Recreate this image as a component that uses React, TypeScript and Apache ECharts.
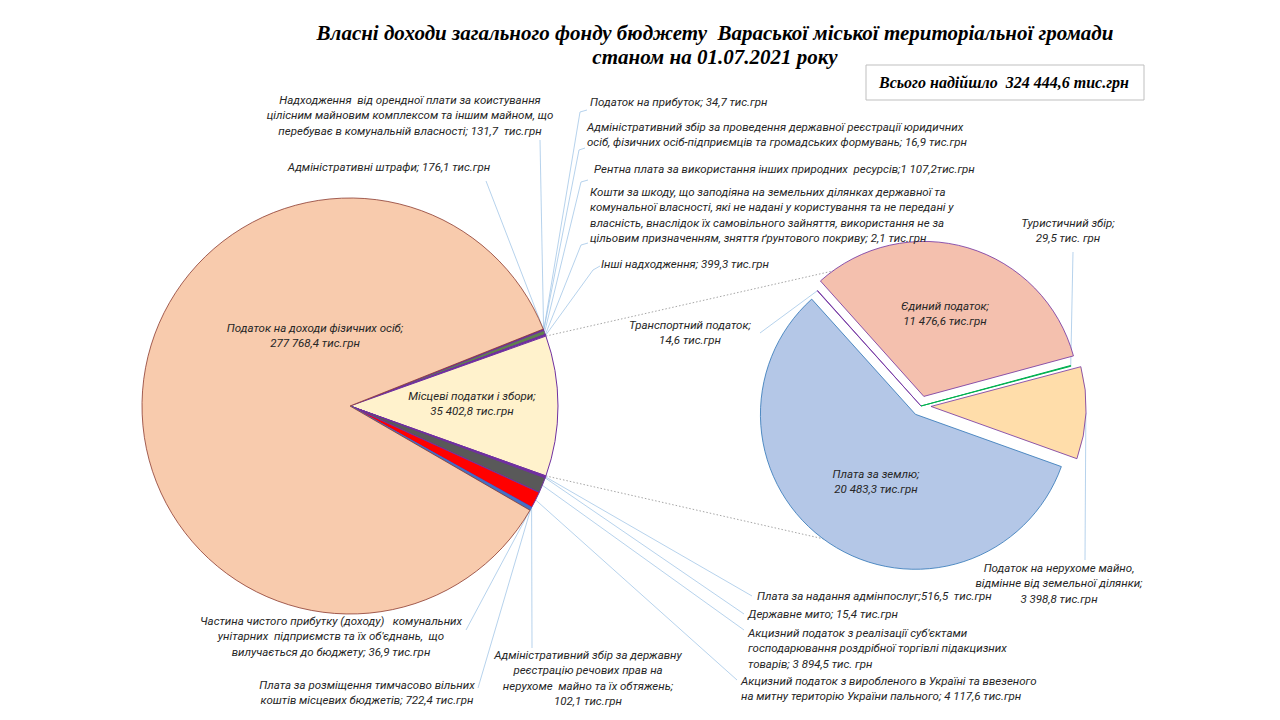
import React, { useEffect, useRef } from "react";
import * as echarts from "echarts";

// ---------- DATA ----------
// Main pie, clockwise from the upper-right small slices
const mainNames = [
  "Адміністративні штрафи",
  "Надходження від орендної плати",
  "Податок на прибуток",
  "Адміністративний збір за реєстрацію юридичних осіб",
  "Рентна плата за використання інших природних ресурсів",
  "Кошти за шкоду на земельних ділянках",
  "Інші надходження",
  "Місцеві податки і збори",
  "Плата за надання адмінпослуг",
  "Державне мито",
  "Акцизний податок з роздрібної торгівлі",
  "Акцизний податок з пального",
  "Адміністративний збір за реєстрацію речових прав",
  "Плата за розміщення тимчасово вільних коштів",
  "Частина чистого прибутку комунальних підприємств",
  "Податок на доходи фізичних осіб",
];
const mainValues = [
  176.1, 131.7, 34.7, 16.9, 1107.2, 2.1, 399.3, 35402.8, 516.5, 15.4, 3894.5,
  4117.6, 102.1, 722.4, 36.9, 277768.4,
];
const mainLabels = [
  "Адміністративні штрафи; 176,1 тис.грн",
  "Надходження  від орендної плати за коистування\nцілісним майновим комплексом та іншим майном, що\nперебуває в комунальній власності; 131,7  тис.грн",
  "Податок на прибуток; 34,7 тис.грн",
  "Адміністративний збір за проведення державної реєстрації юридичних\nосіб, фізичних осіб-підприємців та громадських формувань; 16,9 тис.грн",
  "Рентна плата за використання інших природних  ресурсів;1 107,2тис.грн",
  "Кошти за шкоду, що заподіяна на земельних ділянках державної та\nкомунальної власності, які не надані у користування та не передані у\nвласність, внаслідок їх самовільного зайняття, використання не за\nцільовим призначенням, зняття ґрунтового покриву; 2,1 тис.грн",
  "Інші надходження; 399,3 тис.грн",
  "Місцеві податки і збори;\n35 402,8 тис.грн",
  "Плата за надання адмінпослуг;516,5  тис.грн",
  "Державне мито; 15,4 тис.грн",
  "Акцизний податок з реалізації суб'єктами\nгосподарювання роздрібної торгівлі підакцизних\nтоварів; 3 894,5 тис. грн",
  "Акцизний податок з виробленого в Україні та ввезеного\nна митну територію України пального; 4 117,6 тис.грн",
  "Адміністративний збір за державну\nреєстрацію речових прав на\nнерухоме  майно та їх обтяжень;\n102,1 тис.грн",
  "Плата за розміщення тимчасово вільних\nкоштів місцевих бюджетів; 722,4 тис.грн",
  "Частина чистого прибутку (доходу)   комунальних\nунітарних  підприємств та їх об'єднань,  що\nвилучається до бюджету; 36,9 тис.грн",
  "Податок на доходи фізичних осіб;\n277 768,4 тис.грн",
];

// Second pie: breakdown of "Місцеві податки і збори", clockwise
const localNames = [
  "Транспортний податок",
  "Єдиний податок",
  "Туристичний збір",
  "Податок на нерухоме майно, відмінне від земельної ділянки",
  "Плата за землю",
];
const localValues = [14.6, 11476.6, 29.5, 3398.8, 20483.3];
const localLabels = [
  "Транспортний податок;\n14,6 тис.грн",
  "Єдиний податок;\n11 476,6 тис.грн",
  "Туристичний збір;\n29,5 тис. грн",
  "Податок на нерухоме майно,\nвідмінне від земельної ділянки;\n3 398,8 тис.грн",
  "Плата за землю;\n20 483,3 тис.грн",
];
const localExploded = [false, true, false, true, true];

// ---------- STYLE ----------
const mainColors = [
  "#7030A0", "#7030A0", "#7030A0", "#7030A0", "#5F7F4F", "#7030A0", "#7030A0",
  "#FFF2CC", "#7030A0", "#7030A0", "#595959", "#FF0000", "#7030A0", "#4472C4",
  "#4472C4", "#F8CBAD",
];
const mainBorders = [
  "#7030A0", "#7030A0", "#7030A0", "#7030A0", "#7030A0", "#7030A0", "#7030A0",
  "#7030A0", "#7030A0", "#7030A0", "#7030A0", "#7030A0", "#7030A0", "#4472C4",
  "#4472C4", "#8B3A2E",
];
const localColors = ["#7030A0", "#F4C0AE", "#00B050", "#FFDDAA", "#B4C7E7"];
const localBorders = ["#7030A0", "#7030A0", "#00B050", "#7030A0", "#2E75B6"];

const MAIN_C = [350, 406];
const MAIN_R = 208;
const LOC_C = [921, 406];
const LOC_R = 155;
const LOC_START = 132;
const OFFSET = 10;

type Spot = { x: number; y: number; align: string; line?: number[][] };
const mainSpots: Spot[] = [
  { x: 389, y: 159, align: "center", line: [[486, 181]] },
  { x: 410, y: 92, align: "center", line: [[540, 140]] },
  { x: 590, y: 94, align: "left", line: [[580, 112], [587, 110]] },
  { x: 587, y: 119, align: "left", line: [[579, 150], [585, 148]] },
  { x: 594, y: 161, align: "left", line: [[581, 182], [588, 180]] },
  { x: 590, y: 184, align: "left", line: [[581, 245], [588, 243]] },
  { x: 601, y: 256, align: "left", line: [[593, 270], [600, 266]] },
  { x: 472, y: 388, align: "center" },
  { x: 757, y: 588, align: "left", line: [[752, 596]] },
  { x: 748, y: 606, align: "left", line: [[744, 614]] },
  { x: 748, y: 625, align: "left", line: [[744, 630]] },
  { x: 741, y: 673, align: "left", line: [[737, 680]] },
  { x: 588, y: 647, align: "center", line: [[532, 648]] },
  { x: 367, y: 677, align: "center", line: [[478, 688]] },
  { x: 331, y: 613, align: "center", line: [[466, 630]] },
  { x: 315, y: 320, align: "center" },
];
const localSpots: Spot[] = [
  { x: 690, y: 317, align: "center", line: [[760, 333]] },
  { x: 945, y: 298, align: "center" },
  { x: 1068, y: 215, align: "center", line: [[1073, 252]] },
  { x: 1059, y: 560, align: "center", line: [[1085, 560]] },
  { x: 876, y: 466, align: "center" },
];

const labelText = {
  fontFamily: "Roboto",
  fontStyle: "italic" as const,
  fontSize: 11.5,
  color: "#262626",
  lineHeight: 15.5,
};
const lineStyle = { color: "#9DC3E6", width: 0.75 };
const HIDDEN = "rgba(0,0,0,0)";

function makeLayout(spots: Spot[], c: number[], r: number) {
  return (params: any) => {
    const s = spots[params.dataIndex];
    if (!s) return {};
    const out: any = { x: s.x, y: s.y, align: s.align, verticalAlign: "top" };
    if (s.line) {
      const lp = params.labelLinePoints;
      let p0: number[] = s.line[0];
      if (lp && lp[0]) {
        const dx = lp[0][0] - c[0];
        const dy = lp[0][1] - c[1];
        const d = Math.hypot(dx, dy) || 1;
        p0 = [c[0] + (dx / d) * r, c[1] + (dy / d) * r];
      }
      const pts = [p0, ...s.line];
      while (pts.length < 3) pts.push(pts[pts.length - 1]);
      out.labelLinePoints = pts;
    }
    return out;
  };
}

function fmt(v: number) {
  const [i, d] = v.toFixed(1).split(".");
  return i.replace(/\B(?=(\d{3})+(?!\d))/g, " ") + "," + d;
}

export default function App() {
  const ref = useRef<HTMLDivElement>(null);
  useEffect(() => {
    const chart = echarts.init(ref.current!, null, { renderer: "svg" });
    const rad = (a: number) => (a * Math.PI) / 180;

    // main pie geometry
    const total = mainValues.reduce((a, b) => a + b, 0);
    const mIdx = 7;
    const before = mainValues.slice(0, mIdx).reduce((a, b) => a + b, 0);
    const mainStart = ((before + mainValues[mIdx] / 2) / total) * 360;
    const mStartA = mainStart - (before / total) * 360;
    const mEndA = mStartA - (mainValues[mIdx] / total) * 360;
    const cornerTop = [MAIN_C[0] + MAIN_R * Math.cos(rad(mStartA)), MAIN_C[1] - MAIN_R * Math.sin(rad(mStartA))];
    const cornerBot = [MAIN_C[0] + MAIN_R * Math.cos(rad(mEndA)), MAIN_C[1] - MAIN_R * Math.sin(rad(mEndA))];

    const mainData = mainNames.map((n, i) => {
      const inside = i === 7 || i === 15;
      return {
        name: n,
        value: mainValues[i],
        itemStyle: { color: mainColors[i], borderColor: mainBorders[i], borderWidth: i === 15 ? 0.8 : 1 },
        label: inside ? { position: "inside" } : { position: "outside" },
        labelLine: { show: !inside },
      };
    });

    // second pie: one layer for the unexploded slices, one per exploded slice
    const locSum = localValues.reduce((a, b) => a + b, 0);
    const mids: number[] = [];
    let acc = 0;
    localValues.forEach((v) => {
      mids.push(LOC_START - ((acc + v / 2) / locSum) * 360);
      acc += v;
    });
    const layers: { center: number[]; show: (i: number) => boolean }[] = [
      { center: LOC_C, show: (i) => !localExploded[i] },
    ];
    localExploded.forEach((ex, k) => {
      if (!ex) return;
      layers.push({
        center: [LOC_C[0] + OFFSET * Math.cos(rad(mids[k])), LOC_C[1] - OFFSET * Math.sin(rad(mids[k]))],
        show: (i) => i === k,
      });
    });
    const localSeries = layers.map((layer) => ({
      type: "pie",
      center: layer.center,
      radius: LOC_R,
      startAngle: LOC_START,
      clockwise: true,
      avoidLabelOverlap: false,
      silent: true,
      emphasis: { disabled: true },
      label: {
        ...labelText,
        overflow: "none",
        formatter: (p: any) => localLabels[p.dataIndex],
      },
      labelLine: { show: true, lineStyle },
      labelLayout: makeLayout(localSpots, layer.center, LOC_R),
      data: localNames.map((n, i) => {
        const vis = layer.show(i);
        const inside = i === 1 || i === 4;
        return {
          name: n,
          value: localValues[i],
          itemStyle: vis
            ? { color: localColors[i], borderColor: localBorders[i], borderWidth: i === 2 ? 1 : 0.8 }
            : { color: HIDDEN, borderColor: HIDDEN, borderWidth: 0 },
          label: vis ? { show: true, position: inside ? "inside" : "outside" } : { show: false },
          labelLine: { show: vis && !inside },
        };
      }),
    }));

    const serif = "'Liberation Serif', 'Times New Roman', serif";

    chart.setOption({
      animation: false,
      backgroundColor: "#ffffff",
      graphic: [
        {
          type: "line",
          z: 0,
          shape: { x1: cornerTop[0], y1: cornerTop[1], x2: LOC_C[0], y2: LOC_C[1] - LOC_R },
          style: { stroke: "#A6A6A6", lineWidth: 1, lineDash: [1.5, 2] },
        },
        {
          type: "line",
          z: 0,
          shape: { x1: cornerBot[0], y1: cornerBot[1], x2: LOC_C[0], y2: LOC_C[1] + LOC_R },
          style: { stroke: "#A6A6A6", lineWidth: 1, lineDash: [1.5, 2] },
        },
        {
          type: "text",
          x: 715,
          y: 33,
          style: {
            text: "Власні доходи загального фонду бюджету  Вараської міської територіальної громади",
            fill: "#000",
            font: "italic bold 21px " + serif,
            textAlign: "center",
            textVerticalAlign: "middle",
          },
        },
        {
          type: "text",
          x: 715,
          y: 57,
          style: {
            text: "станом на 01.07.2021 року",
            fill: "#000",
            font: "italic bold 21px " + serif,
            textAlign: "center",
            textVerticalAlign: "middle",
          },
        },
        {
          type: "rect",
          shape: { x: 866, y: 65, width: 278, height: 35 },
          style: { fill: "#fff", stroke: "#BFBFBF", lineWidth: 1 },
        },
        {
          type: "text",
          x: 1004,
          y: 82,
          style: {
            text: "Всього надійшло  " + fmt(total) + " тис.грн",
            fill: "#000",
            font: "italic bold 16px " + serif,
            textAlign: "center",
            textVerticalAlign: "middle",
          },
        },
      ],
      series: [
        {
          type: "pie",
          center: MAIN_C,
          radius: MAIN_R,
          startAngle: mainStart,
          clockwise: true,
          avoidLabelOverlap: false,
          silent: true,
          emphasis: { disabled: true },
          label: {
            ...labelText,
            overflow: "none",
            formatter: (p: any) => mainLabels[p.dataIndex],
          },
          labelLine: { show: true, lineStyle },
          labelLayout: makeLayout(mainSpots, MAIN_C, MAIN_R),
          data: mainData,
        },
        ...localSeries,
      ],
    });
    return () => chart.dispose();
  }, []);
  return (
    <div
      ref={ref}
      style={{ position: "fixed", left: 0, top: 0, width: 1280, height: 720, background: "#fff" }}
    />
  );
}
